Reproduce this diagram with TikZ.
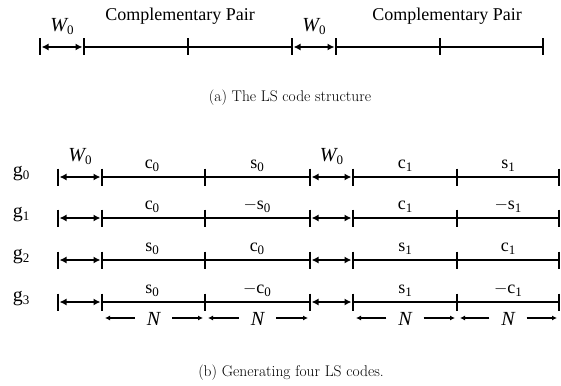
\documentclass[tikz,border=0pt]{standalone}
\usepackage{fontspec}
\newfontfamily\tms{Liberation Serif}
\usetikzlibrary{arrows.meta}
\newcommand\sbz[1]{\raisebox{-3.2pt}{\fontsize{13}{13}\selectfont #1}}
\begin{document}
\begin{tikzpicture}[x=1pt,y=-1pt,line width=1.5pt,
  lbl/.style={font=\tms\fontsize{18}{20}\selectfont,inner sep=0pt,anchor=base},
  glbl/.style={font=\tms\fontsize{20}{22}\selectfont,inner sep=0pt,anchor=base},
  mlbl/.style={font=\tms\itshape\fontsize{20}{22}\selectfont,inner sep=0pt,anchor=base},
  captxt/.style={font=\fontsize{15.5}{17}\selectfont,inner sep=0pt,anchor=base},
  wtip/.style={{Latex[length=7pt,width=7pt]}-{Latex[length=7pt,width=7pt]},shorten <=1.5pt,shorten >=1.5pt},
  ntip/.style={-{Latex[length=5pt,width=5pt]},line width=1.2pt},
  nlbl/.style={font=\tms\itshape\fontsize{20}{22}\selectfont,inner xsep=12pt,inner ysep=0pt,outer sep=0pt}]
\useasboundingbox (0,0) rectangle (561,385);
% ---------- (a) ----------
\foreach \n/\x in {a1/40,a2/84,a3/188,a4/292,a5/336,a6/440,a7/543}{
  \coordinate (\n) at (\x,47);
  \draw (\n) ++(0,-8.5) -- ++(0,17);
}
\draw (a2) -- (a4);
\draw (a5) -- (a7);
\draw[wtip] (a1) -- (a2);
\draw[wtip] (a4) -- (a5);
\node[mlbl] (wa1) at (62,31.5) {W\sbz{\upshape 0}};
\node[mlbl] (wa2) at (314,31.5) {W\sbz{\upshape 0}};
\node[lbl] (cpa1) at (180,21) {Complementary Pair};
\node[lbl] (cpa2) at (447,21) {Complementary Pair};
\node[captxt] (capa) at (290,101) {(a) The LS code structure};
% ---------- (b) ----------
\foreach \r/\y in {0/177,1/218,2/260,3/302}{
  \foreach \k/\x in {1/58,2/102,3/205,4/310,5/353,6/457,7/559}{
    \coordinate (b\r\k) at (\x,\y);
    \draw (b\r\k) ++(0,-8.5) -- ++(0,17);
  }
  \draw (b\r2) -- (b\r4);
  \draw (b\r5) -- (b\r7);
  \draw[wtip] (b\r1) -- (b\r2);
  \draw[wtip] (b\r4) -- (b\r5);
  \node[glbl] (g\r) at (21,\y-1) {g\sbz{\r}};
}
\node[mlbl] (wb1) at (80,161) {W\sbz{\upshape 0}};
\node[mlbl] (wb2) at (331.5,161) {W\sbz{\upshape 0}};
% segment labels
\node[lbl] (l01) at (152,168) {c\sbz{0}};
\node[lbl] (l02) at (257,168) {s\sbz{0}};
\node[lbl] (l03) at (405,168) {c\sbz{1}};
\node[lbl] (l04) at (508,168) {s\sbz{1}};
\node[lbl] (l11) at (152,209) {c\sbz{0}};
\node[lbl] (l12) at (257,209) {$-$s\sbz{0}};
\node[lbl] (l13) at (405,209) {c\sbz{1}};
\node[lbl] (l14) at (508,209) {$-$s\sbz{1}};
\node[lbl] (l21) at (152,251) {s\sbz{0}};
\node[lbl] (l22) at (257,251) {c\sbz{0}};
\node[lbl] (l23) at (405,251) {s\sbz{1}};
\node[lbl] (l24) at (508,251) {c\sbz{1}};
\node[lbl] (l31) at (152,293) {s\sbz{0}};
\node[lbl] (l32) at (257,293) {$-$c\sbz{0}};
\node[lbl] (l33) at (405,293) {s\sbz{1}};
\node[lbl] (l34) at (508,293) {$-$c\sbz{1}};
% N dimension arrows
\foreach \i/\xl/\xr in {1/102/205,2/205/310,3/353/457,4/457/559}{
  \node[nlbl] (n\i) at ({(\xl+\xr)/2},319) {N};
  \coordinate (nl\i) at (\xl+3,318);
  \coordinate (nr\i) at (\xr-2,318);
  \draw[ntip] (n\i.west |- nl\i) -- (nl\i);
  \draw[ntip] (n\i.east |- nr\i) -- (nr\i);
}
\node[captxt] (capb) at (291,376) {(b) Generating four LS codes.};
\end{tikzpicture}
\end{document}
